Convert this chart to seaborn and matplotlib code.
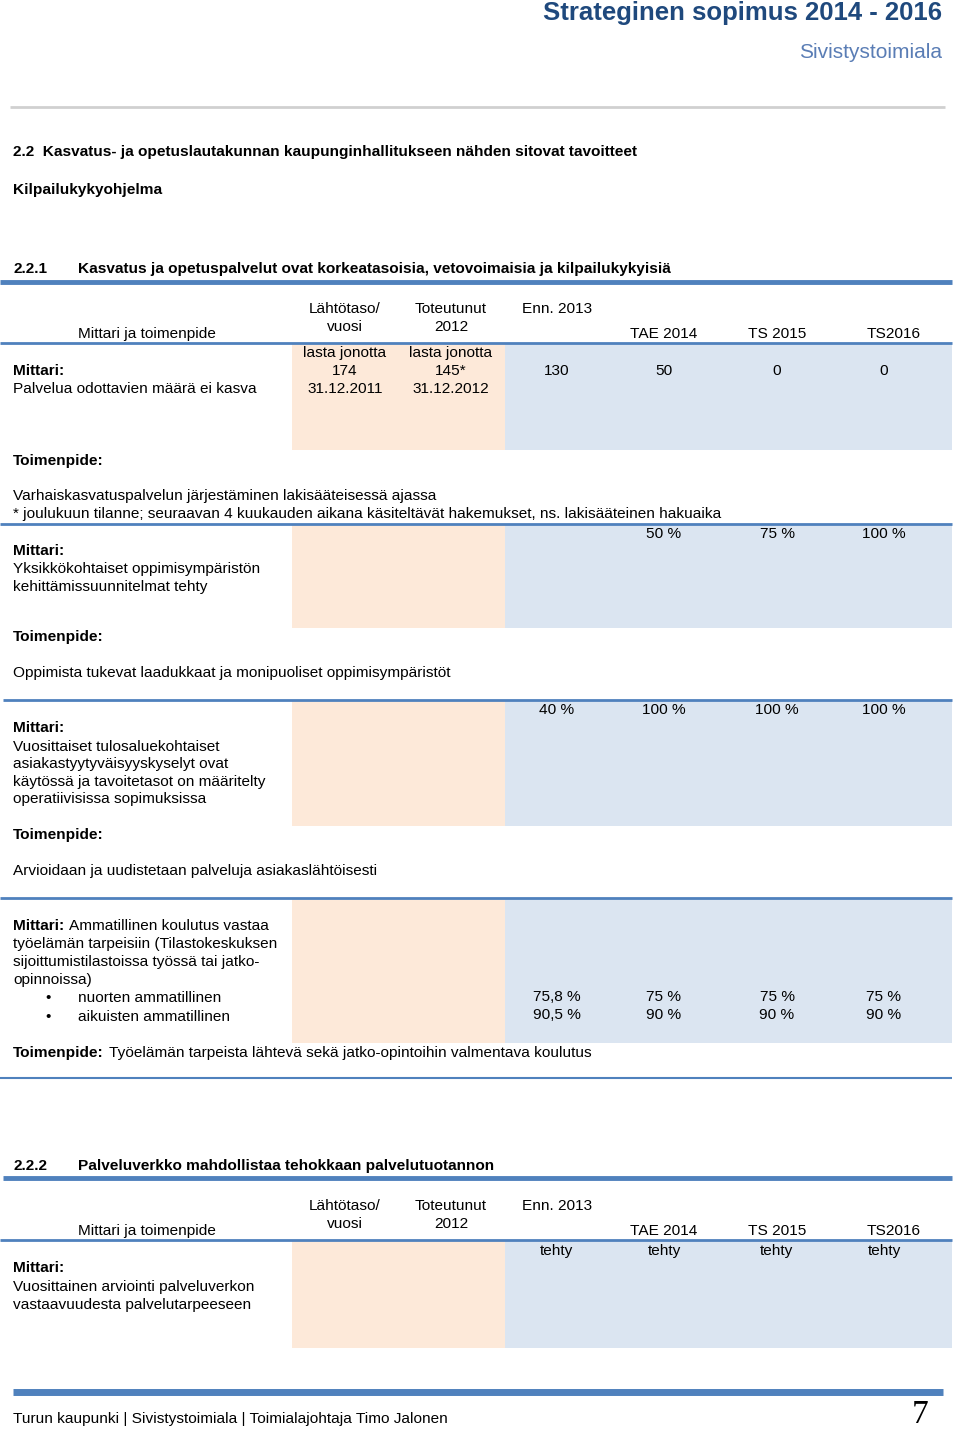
import matplotlib
matplotlib.use("Agg")
import matplotlib.pyplot as plt
from matplotlib.patches import Rectangle
from matplotlib import font_manager
import seaborn as sns

sns.set_theme(style="white")
plt.rcParams['font.family'] = ['Liberation Sans', 'DejaVu Sans']

installed = {f.name for f in font_manager.fontManager.ttflist}
narrow = 'Liberation Sans Narrow' if 'Liberation Sans Narrow' in installed else 'Liberation Sans'

# ---- data ----
page_title = "Strateginen sopimus 2014 - 2016"
page_subtitle = "Sivistystoimiala"
section_title = "2.2  Kasvatus- ja opetuslautakunnan kaupunginhallitukseen nähden sitovat tavoitteet"
program_name = "Kilpailukykyohjelma"
goal_1 = ("2.2.1", "Kasvatus ja opetuspalvelut ovat korkeatasoisia, vetovoimaisia ja kilpailukykyisiä")
goal_2 = ("2.2.2", "Palveluverkko mahdollistaa tehokkaan palvelutuotannon")

header_first = "Mittari ja toimenpide"
header_cols = ["Lähtötaso/\nvuosi", "Toteutunut\n2012", "Enn. 2013", "TAE 2014", "TS 2015", "TS2016"]

row1_base = ["lasta jonotta\n174\n31.12.2011", "lasta jonotta\n145*\n31.12.2012"]
row1_targets = ["130", "50", "0", "0"]
row2_targets = ["", "50 %", "75 %", "100 %"]
row3_targets = ["40 %", "100 %", "100 %", "100 %"]
row4_nuoret = ["75,8 %", "75 %", "75 %", "75 %"]
row4_aikuiset = ["90,5 %", "90 %", "90 %", "90 %"]
row5_targets = ["tehty", "tehty", "tehty", "tehty"]

footer = "Turun kaupunki | Sivistystoimiala | Toimialajohtaja Timo Jalonen"
page_no = "7"

# ---- layout / style ----
BLUE = "#4F81BD"
NAVY = "#1F497D"
PEACH = "#FDE9D9"
LIGHTBLUE = "#DBE5F1"
FS = 11.1
LS = 1.32
col_x = [345, 451, 557, 664, 777, 884]
hdr_x = [345, 451, 557, 664, 777, 894]

fig = plt.figure(figsize=(9.6, 14.29), dpi=100)
ax = fig.add_axes([0, 0, 1, 1])
ax.set_xlim(0, 960)
ax.set_ylim(1429, 0)
ax.axis("off")


def txt(x, y, s, ha="left", bold=False, size=FS, color="black", va="center", **kw):
    ax.text(x, y, s, ha=ha, va=va, fontsize=size, color=color,
            fontweight="bold" if bold else "normal", linespacing=LS, **kw)


def hline(y, x0, x1, lw, color=BLUE):
    ax.plot([x0, x1], [y, y], color=color, lw=lw, solid_capstyle="butt")


def shade(y0, y1):
    ax.add_patch(Rectangle((292, y0), 213, y1 - y0, color=PEACH, lw=0, zorder=0))
    ax.add_patch(Rectangle((505, y0), 447, y1 - y0, color=LIGHTBLUE, lw=0, zorder=0))


def header(y_top, y_line):
    txt(147, y_line - 9, header_first, ha="center")
    for i, (x, s) in enumerate(zip(hdr_x, header_cols)):
        if i < 3:
            txt(x, y_top + (9 if "\n" in s else 0), s, ha="center")
        else:
            txt(x, y_line - 9, s, ha="center")


# page header
txt(942, 13, page_title, ha="right", bold=True, size=18.5, color=NAVY, family=[narrow, 'DejaVu Sans'])
txt(942, 52, page_subtitle, ha="right", size=15, color="#5A7DB5")
hline(107, 10, 945, 2, color="#D0D0D0")

txt(13, 152, section_title, bold=True)
txt(13, 190, program_name, bold=True)

# goal 2.2.1
txt(13, 269, goal_1[0], bold=True)
txt(78, 269, goal_1[1], bold=True)
hline(282, 0, 952, 3.5)
header(309, 343)
hline(343, 0, 952, 2)

# row 1
shade(344, 450)
txt(13, 371, "Mittari:", bold=True)
txt(13, 389, "Palvelua odottavien määrä ei kasva")
for x, s in zip(col_x[:2], row1_base):
    txt(x, 371, s, ha="center")
for x, s in zip(col_x[2:], row1_targets):
    txt(x, 371, s, ha="center")

txt(13, 461, "Toimenpide:", bold=True)
txt(13, 496, "Varhaiskasvatuspalvelun järjestäminen lakisääteisessä ajassa")
hline(524, 0, 952, 2)
txt(13, 514, "* joulukuun tilanne; seuraavan 4 kuukauden aikana käsiteltävät hakemukset, ns. lakisääteinen hakuaika")

# row 2
shade(525, 628)
txt(13, 551, "Mittari:", bold=True)
txt(13, 578, "Yksikkökohtaiset oppimisympäristön\nkehittämissuunnitelmat tehty")
for x, s in zip(col_x[2:], row2_targets):
    txt(x, 534, s, ha="center")

txt(13, 637, "Toimenpide:", bold=True)
txt(13, 673, "Oppimista tukevat laadukkaat ja monipuoliset oppimisympäristöt")
hline(700, 3, 952, 2)

# row 3
shade(701, 826)
txt(13, 728, "Mittari:", bold=True)
txt(13, 773, "Vuosittaiset tulosaluekohtaiset\nasiakastyytyväisyyskyselyt ovat\nkäytössä ja tavoitetasot on määritelty\noperatiivisissa sopimuksissa")
for x, s in zip(col_x[2:], row3_targets):
    txt(x, 710, s, ha="center")

txt(13, 835, "Toimenpide:", bold=True)
txt(13, 871, "Arvioidaan ja uudistetaan palveluja asiakaslähtöisesti")
hline(898, 0, 952, 2)

# row 4
shade(899, 1043)
txt(13, 926, "Mittari:", bold=True)
txt(69, 926, "Ammatillinen koulutus vastaa")
txt(13, 962, "työelämän tarpeisiin (Tilastokeskuksen\nsijoittumistilastoissa työssä tai jatko-\nopinnoissa)")
txt(48, 998, "•", ha="center")
txt(48, 1017, "•", ha="center")
txt(78, 998, "nuorten ammatillinen")
txt(78, 1017, "aikuisten ammatillinen")
for x, a, b in zip(col_x[2:], row4_nuoret, row4_aikuiset):
    txt(x, 997, a, ha="center")
    txt(x, 1015, b, ha="center")

txt(13, 1053, "Toimenpide:", bold=True)
txt(109, 1053, "Työelämän tarpeista lähtevä sekä jatko-opintoihin valmentava koulutus")
hline(1078, 0, 952, 1.5)

# goal 2.2.2
txt(13, 1166, goal_2[0], bold=True)
txt(78, 1166, goal_2[1], bold=True)
hline(1178, 3, 952, 3.5)
header(1206, 1240)
hline(1240, 0, 952, 2)

shade(1241, 1348)
txt(13, 1268, "Mittari:", bold=True)
txt(13, 1296, "Vuosittainen arviointi palveluverkon\nvastaavuudesta palvelutarpeeseen")
for x, s in zip(col_x[2:], row5_targets):
    txt(x, 1251, s, ha="center")

# footer
hline(1392, 13, 943, 5)
txt(13, 1419, footer)
txt(929, 1415, page_no, ha="right", size=24, family=['Liberation Serif', 'DejaVu Serif'])

fig.savefig("out.png", dpi=100)
